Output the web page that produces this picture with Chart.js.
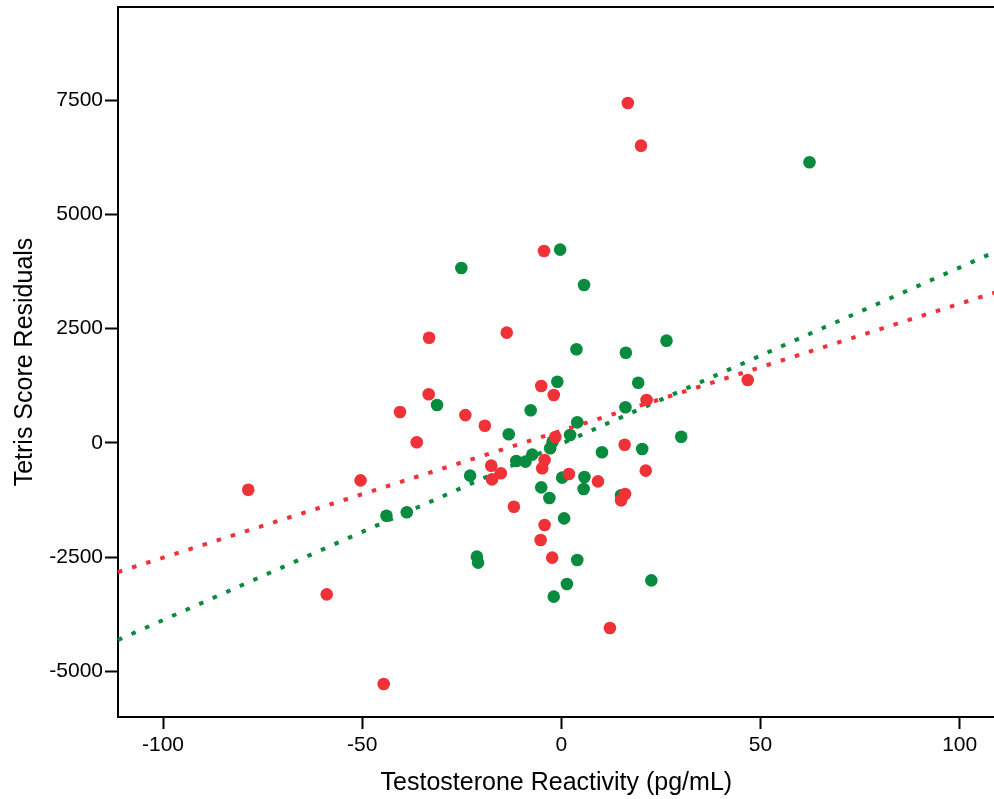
<!DOCTYPE html>
<html>
<head>
<meta charset="utf-8">
<script src="https://cdn.jsdelivr.net/npm/chart.js@4/dist/chart.umd.min.js"></script>
<style>
  html, body { margin: 0; padding: 0; background: #fff; overflow: hidden; }
  /* canvas runs a few px past the window so the plot reaches the right edge */
  #wrap { width: 994px; height: 799px; overflow: hidden; }
</style>
</head>
<body>
<div id="wrap"><canvas id="residChart" width="1001" height="799"></canvas></div>
<script>
// Group 1 (red): testosterone reactivity vs Tetris residuals
const redX = [-78.6, -58.9, -50.4, -44.6, -40.5, -36.3, -33.3, -33.2, -24.1, -19.2,
              -17.6, -17.4, -15.2, -13.7, -11.9, -5.05, -5.2, -4.35, -4.2, -4.8,
              -4.2, -2.3, -1.9, -1.5, 1.9, 9.2, 12.2, 15.9, 16.0, 15.0,
              16.7, 20.0, 21.4, 21.2, 46.8];
const redY = [-1021, -3310, -817, -5271, 678, 15, 1065, 2303, 610, 378,
              -496, -795, -663, 2413, -1393, 1247, -2122, 4200, -372, -554,
              -1794, -2508, 1050, 130, -678, -839, -4046, -37, -1115, -1254,
              7437, 6503, 940, -605, 1378];

// Group 2 (green)
const greenX = [-43.9, -38.8, -31.2, -25.1, -22.9, -21.2, -20.9, -13.2, -11.3, -9.0,
                -7.7, -7.3, -5.05, -3.0, -2.2, -2.8, -1.0, -0.3, 0.2, 0.7,
                1.4, -1.9, 2.2, 3.8, 4.0, 4.0, 5.7, 5.8, 5.6, 10.2,
                15.0, 16.1, 16.2, 19.3, 20.3, 22.6, 26.4, 30.1, 62.3];
const greenY = [-1590, -1516, 831, 3828, -714, -2486, -2617, 190, -394, -408,
                715, -255, -970, -1203, 28, -116, 1341, 4230, -758, -1648,
                -3084, -3361, 175, 2049, 452, -2559, 3456, -744, -1006, -204,
                -1144, 781, 1975, 1319, -131, -3004, 2238, 138, 6140];

// Fit lines, endpoints at the edges of the x range
const fitX = [-111.3, 108.8];
const redFitY = [-2822, 3290];
const greenFitY = [-4309, 4178];

const xTicks = [-100, -50, 0, 50, 100];
const yTicks = [-5000, -2500, 0, 2500, 5000, 7500];

const RED = '#ee3238';
const GREEN = '#088b3f';
const FONT = "'Liberation Sans', Arial, sans-serif";

function pts(xs, ys) {
    return xs.map((x, i) => ({ x: x, y: ys[i] }));
}

// top frame line (no right side)
const topFrame = {
    id: 'topFrame',
    afterDraw(chart) {
        const a = chart.chartArea;
        const ctx = chart.ctx;
        ctx.save();
        ctx.strokeStyle = '#000';
        ctx.lineWidth = 2;
        ctx.beginPath();
        ctx.moveTo(a.left - 1, a.top);
        ctx.lineTo(a.right, a.top);
        ctx.stroke();
        ctx.restore();
    }
};

const ctx = document.getElementById('residChart').getContext('2d');
new Chart(ctx, {
    type: 'scatter',
    data: {
        datasets: [
            {
                label: 'red',
                data: pts(redX, redY),
                backgroundColor: RED,
                borderWidth: 0,
                pointRadius: 6.3,
                order: 1
            },
            {
                label: 'green',
                data: pts(greenX, greenY),
                backgroundColor: GREEN,
                borderWidth: 0,
                pointRadius: 6.3,
                order: 2
            },
            {
                type: 'line',
                label: 'red fit',
                data: pts(fitX, redFitY),
                borderColor: RED,
                borderWidth: 4,
                borderDash: [4.5, 10.3],
                borderCapStyle: 'butt',
                pointRadius: 0,
                fill: false,
                order: 3
            },
            {
                type: 'line',
                label: 'green fit',
                data: pts(fitX, greenFitY),
                borderColor: GREEN,
                borderWidth: 4,
                borderDash: [4.5, 10.3],
                borderCapStyle: 'butt',
                pointRadius: 0,
                fill: false,
                order: 4
            }
        ]
    },
    options: {
        responsive: false,
        animation: false,
        clip: false,
        layout: { padding: { top: 7, right: 0, left: 0, bottom: 0 } },
        plugins: {
            legend: { display: false },
            tooltip: { enabled: false }
        },
        scales: {
            x: {
                type: 'linear',
                min: fitX[0],
                max: fitX[1],
                afterBuildTicks: s => { s.ticks = xTicks.map(v => ({ value: v })); },
                afterFit: s => {
                    s.height = 82;
                    s.paddingLeft = 0;
                    s.paddingRight = 0;
                },
                grid: {
                    drawOnChartArea: false,
                    drawTicks: true,
                    tickLength: 12,
                    tickWidth: 2,
                    tickColor: '#000'
                },
                border: { display: true, color: '#000', width: 2 },
                ticks: {
                    color: '#000',
                    padding: 4,
                    font: { family: FONT, size: 21 },
                    callback: v => String(v)
                },
                title: {
                    display: true,
                    text: 'Testosterone Reactivity (pg/mL)',
                    color: '#000',
                    font: { family: FONT, size: 25, lineHeight: 1.2 },
                    padding: { top: 0, bottom: 1 }
                }
            },
            y: {
                type: 'linear',
                min: -5993,
                max: 9536,
                afterBuildTicks: s => { s.ticks = yTicks.map(v => ({ value: v })); },
                afterFit: s => {
                    s.width = 118;
                    s.paddingTop = 0;
                    s.paddingBottom = 0;
                },
                grid: {
                    drawOnChartArea: false,
                    drawTicks: true,
                    tickLength: 13,
                    tickWidth: 2,
                    tickColor: '#000'
                },
                border: { display: true, color: '#000', width: 2 },
                ticks: {
                    color: '#000',
                    padding: 2,
                    font: { family: FONT, size: 21 },
                    callback: v => String(v)
                },
                title: {
                    display: true,
                    text: 'Tetris Score Residuals',
                    color: '#000',
                    font: { family: FONT, size: 25, lineHeight: 1.2 },
                    padding: { top: 10, bottom: 0 }
                }
            }
        }
    },
    plugins: [topFrame]
});
</script>
</body>
</html>
